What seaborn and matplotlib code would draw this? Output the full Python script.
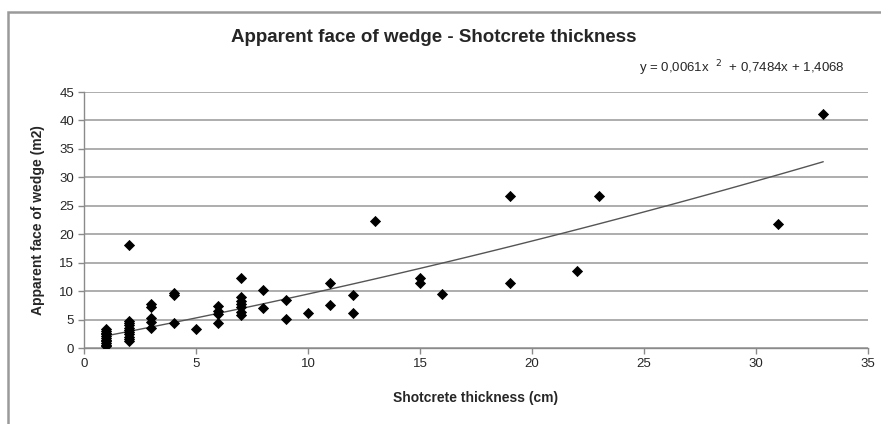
import numpy as np
import pandas as pd
from matplotlib import pyplot as plt
from matplotlib.patches import Rectangle
import seaborn as sns

# shotcrete thickness (cm) and apparent face of wedge (m2)
thickness = [1, 1, 1, 1, 1, 1, 1, 1, 1, 1, 1,
             2, 2, 2, 2, 2, 2, 2, 2, 2, 2, 2,
             3, 3, 3, 3, 3,
             4, 4, 4,
             5,
             6, 6, 6, 6,
             7, 7, 7, 7, 7, 7, 7,
             8, 8,
             9, 9,
             10,
             11, 11,
             12, 12,
             13,
             15, 15,
             16,
             19, 19,
             22,
             23,
             31,
             33]
face = [0.3, 0.6, 0.9, 1.2, 1.5, 1.8, 2.1, 2.4, 2.7, 3.0, 3.3,
        1.2, 1.6, 2.0, 2.4, 2.8, 3.2, 3.6, 4.0, 4.4, 4.8, 18.1,
        3.6, 4.6, 5.3, 7.2, 7.8,
        9.3, 9.7, 4.4,
        3.4,
        7.4, 6.6, 6.0, 4.4,
        12.4, 8.9, 8.3, 7.8, 7.2, 6.4, 5.8,
        10.2, 7.0,
        8.4, 5.2,
        6.1,
        11.5, 7.5,
        9.3, 6.2,
        22.3,
        12.4, 11.4,
        9.5,
        26.7, 11.4,
        13.6,
        26.8,
        21.8,
        41.1]

# polynomial trendline coefficients shown on the chart
trend_coef = [0.0061, 0.7484, 1.4068]
trend_label = 'y = 0,0061x  $^{2}$  + 0,7484x + 1,4068'

df = pd.DataFrame({'thickness': thickness, 'face': face})

sns.set_style('white')
plt.rcParams['font.family'] = ['Liberation Sans', 'DejaVu Sans']

fig = plt.figure(figsize=(8.81, 4.24), dpi=100)
ax = fig.add_axes([0.0953, 0.179, 0.890, 0.604])

# chart area border
fig.patches.append(Rectangle((8 / 881, -0.05), 1.2, 1 - 12 / 424 + 0.05,
                             transform=fig.transFigure, fill=False,
                             edgecolor='#9a9a9a', linewidth=1.8))

trend_x = np.linspace(min(thickness), max(thickness), 100)
trend_df = pd.DataFrame({'x': trend_x, 'y': np.polyval(trend_coef, trend_x)})
sns.lineplot(data=trend_df, x='x', y='y', ax=ax, color='#555555', linewidth=1.0)

sns.scatterplot(data=df, x='thickness', y='face', ax=ax, marker='D',
                s=26, color='black', edgecolor='black', linewidth=0.6, zorder=3)

ax.set_xlim(0, 35)
ax.set_ylim(0, 45)
ax.set_xticks(range(0, 36, 5))
ax.set_yticks(range(0, 46, 5))
ax.yaxis.grid(True, color='#a0a0a0', linewidth=1.2)
ax.set_axisbelow(True)
for side in ['top', 'right']:
    ax.spines[side].set_visible(False)
for side in ['left', 'bottom']:
    ax.spines[side].set_color('#8a8a8a')
    ax.spines[side].set_linewidth(1.0)
ax.tick_params(axis='both', direction='out', length=4, width=1.0,
               color='#8a8a8a', labelsize=9.5, pad=3, bottom=True, left=True)

ax.set_xlabel('Shotcrete thickness (cm)', fontsize=10, fontweight='bold', labelpad=15)
ax.set_ylabel('Apparent face of wedge (m2)', fontsize=10, fontweight='bold', labelpad=10)

fig.text(434 / 881, 1 - 38 / 424, 'Apparent face of wedge - Shotcrete thickness',
         ha='center', va='center', fontsize=13.5, fontweight='bold')
fig.text(845 / 881, 1 - 68 / 424, trend_label, ha='right', va='center', fontsize=9.5)

plt.savefig('out.png', dpi=100)
